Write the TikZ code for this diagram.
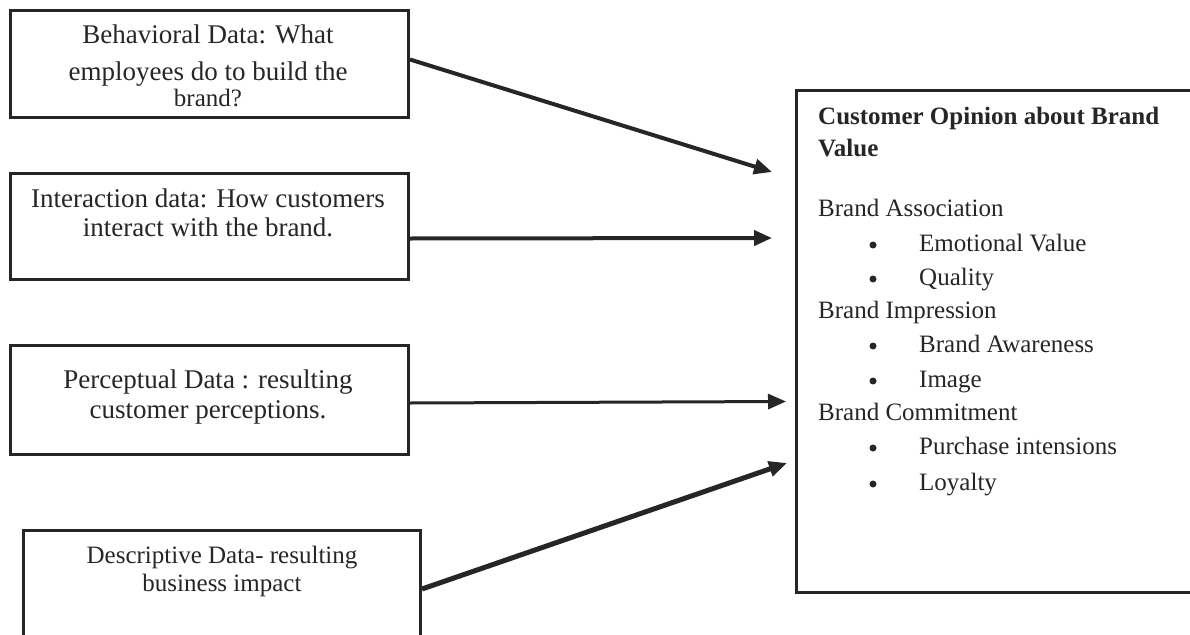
\documentclass[tikz,border=0pt]{standalone}
\usepackage{fontspec}
\setmainfont{Liberation Serif}
\usetikzlibrary{arrows.meta,calc}
\definecolor{ink}{HTML}{262626}
\begin{document}
\begin{tikzpicture}[x=1pt,y=-1pt,
  box/.style={draw=ink, line width=3pt, inner sep=0pt, anchor=north west},
  big/.style={font=\fontsize{27}{32}\selectfont, text=ink, inner sep=0pt, anchor=base},
  mid/.style={font=\fontsize{25}{30}\selectfont, text=ink, inner sep=0pt, anchor=base},
  lft/.style={mid, anchor=base west},
  bul/.style={circle, fill=ink, inner sep=0pt, minimum size=7pt},
  conn/.style={draw=ink, -{Triangle[length=18pt,width=15pt]}},
]
\clip (0,0) rectangle (1190,634);
\fill[white] (0,0) rectangle (1190,634);

% boxes
\node[box, minimum width=398pt, minimum height=107pt] (b1) at (9,9) {};
\node[box, minimum width=398pt, minimum height=106pt] (b2) at (9,172) {};
\node[box, minimum width=398pt, minimum height=109pt] (b3) at (9,344) {};
\node[box, minimum width=397pt, minimum height=150pt] (b4) at (22,529) {};
\node[box, minimum width=430pt, minimum height=502pt] (rb) at (795,89) {};

% left texts
\node[big] (b1l1) at (208,44) {Behavioral Data: What};
\node[big] (b1l2) at (208,81) {employees do to build the};
\node[mid] (b1l3) at (208,106) {brand?};

\node[big] (b2l1) at (208,207) {Interaction data: How customers};
\node[big] (b2l2) at (208,236) {interact with the brand.};

\node[big] (b3l1) at (208,388) {Perceptual Data : resulting};
\node[big] (b3l2) at (208,418) {customer perceptions.};

\node[mid] (b4l1) at (222,563) {Descriptive Data- resulting};
\node[mid] (b4l2) at (222,591) {business impact};

% right box texts
\node[lft] (h1) at (818,124) {\bfseries Customer Opinion about Brand};
\node[lft] (h2) at (818,156) {\bfseries Value};
\node[lft] (g1) at (818,216) {Brand Association};
\node[bul] (d1) at (873,245) {};
\node[lft] (i1) at (919,251) {Emotional Value};
\node[bul] (d2) at (873,279) {};
\node[lft] (i2) at (919,285) {Quality};
\node[lft] (g2) at (818,318) {Brand Impression};
\node[bul] (d3) at (873,346) {};
\node[lft] (i3) at (919,352) {Brand Awareness};
\node[bul] (d4) at (873,381) {};
\node[lft] (i4) at (919,387) {Image};
\node[lft] (g3) at (818,420) {Brand Commitment};
\node[bul] (d5) at (873,448) {};
\node[lft] (i5) at (919,454) {Purchase intensions};
\node[bul] (d6) at (873,484) {};
\node[lft] (i6) at (919,490) {Loyalty};

% arrow tips
\coordinate (t1) at (772,172);
\coordinate (t2) at (772,238);
\coordinate (t3) at (786,401.5);
\coordinate (t4) at (787,463);

% connectors
\draw[conn, line width=4pt] ($(b1.east)+(0,-4.5)$) -- (t1);
\draw[conn, line width=4pt] ($(b2.east)+(0,12)$) -- (t2);
\draw[conn, line width=3pt] ($(b3.east)+(0,3)$) -- (t3);
\draw[conn, line width=5pt] ($(b4.north east)+(0,60)$) -- (t4);
\end{tikzpicture}
\end{document}
